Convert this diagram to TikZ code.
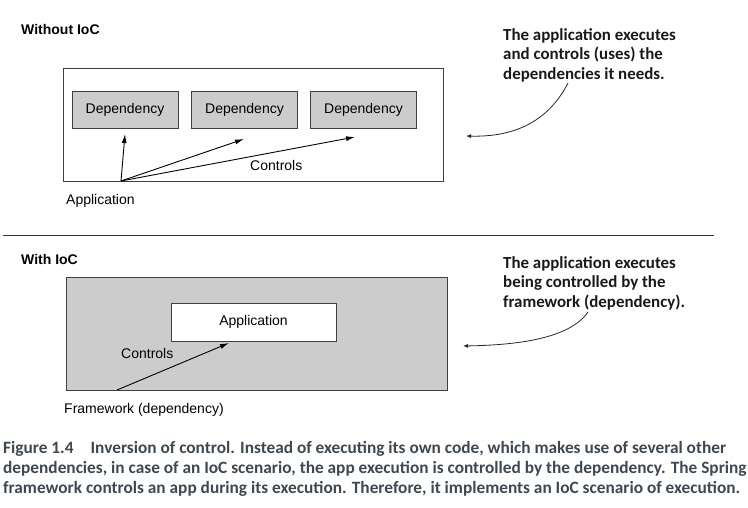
\documentclass[tikz,border=0pt]{standalone}
\usepackage{fontspec}
\setmainfont{Liberation Sans}
\newfontfamily\calfont{Carlito}
\usetikzlibrary{arrows.meta}
\definecolor{boxgray}{HTML}{CCCCCC}
\definecolor{capcol}{HTML}{3E4852}
\begin{document}
\begin{tikzpicture}[x=1pt,y=-1pt,
  lbl/.style={font=\fontsize{14}{16}\selectfont, inner sep=0pt},
  heading/.style={font=\fontsize{14}{16}\selectfont\bfseries, inner sep=0pt, anchor=base west},
  depbox/.style={draw=black!75, line width=0.9pt, fill=boxgray, minimum width=106pt, minimum height=37pt, inner sep=0pt, font=\fontsize{14}{16}\selectfont},
  frame/.style={draw=black!75, line width=0.9pt},
  ctrl/.style={draw=black, line width=0.9pt, -{Latex[length=9pt,width=5pt]}},
  callout/.style={font=\calfont\fontsize{16.9}{19.7}\selectfont\bfseries, inner sep=0pt, anchor=north west, align=left, text=black!90},
  calarrow/.style={draw=black!85, line width=0.8pt, -{Latex[length=5pt,width=4pt]}},
  capline/.style={font=\calfont\fontsize{17.3}{20}\selectfont\bfseries, text=capcol, inner sep=0pt, anchor=base west}
]
\useasboundingbox (0,0) rectangle (748,508);

% ---------- Without IoC ----------
\node[heading] (h1) at (21,35) {Without IoC};
\node[frame, minimum width=380pt, minimum height=113pt, inner sep=0pt] (app1) at (253,124.5) {};
\node[depbox] (d1) at (125,110) {Dependency};
\node[depbox] (d2) at (244.5,110) {Dependency};
\node[depbox] (d3) at (363.5,110) {Dependency};
\coordinate (o1) at (121,181);
\coordinate (t1) at (125,134);
\coordinate (t2) at (244,139);
\coordinate (t3) at (355,137);
\draw[ctrl] (o1) -- (t1);
\draw[ctrl] (o1) -- (t2);
\draw[ctrl] (o1) -- (t3);
\node[lbl, anchor=base west] (c1) at (250,171) {Controls};
\node[lbl, anchor=base west] (a1) at (66,205) {Application};

\node[callout] (n1) at (503,28) {The application executes\\and controls (uses) the\\dependencies it needs.};
\coordinate (n1s) at (568,83);
\coordinate (n1e) at (466,136);
\draw[calarrow] (n1s) .. controls (545,128) and (505,137) .. (n1e);

% separator
\coordinate (sepL) at (3,236);
\coordinate (sepR) at (714,236);
\draw[black!80, line width=1pt] (sepL) -- (sepR);

% ---------- With IoC ----------
\node[heading] (h2) at (21,265) {With IoC};
\node[frame, fill=boxgray, minimum width=381pt, minimum height=113pt, inner sep=0pt] (fw) at (256.5,334) {};
\node[frame, fill=white, minimum width=165pt, minimum height=38pt, inner sep=0pt, font=\fontsize{14}{16}\selectfont] (app2) at (253.5,322) {Application};
\coordinate (o2) at (117,390);
\coordinate (t4) at (229,343);
\draw[ctrl] (o2) -- (t4);
\node[lbl, anchor=base west] (c2) at (121,358) {Controls};
\node[lbl, anchor=base west] (f2) at (64,413) {Framework (dependency)};

\node[callout] (n2) at (503,256) {The application executes\\being controlled by the\\framework (dependency).};
\coordinate (n2s) at (588,312);
\coordinate (n2e) at (463,346);
\draw[calarrow] (n2s) .. controls (570,338) and (520,345) .. (n2e);

% ---------- Caption ----------
\node[capline] (cap1) at (3,453) {Figure 1.4\hspace{17pt}Inversion of control. Instead of executing its own code, which makes use of several other};
\node[capline] (cap2) at (3,473) {dependencies, in case of an IoC scenario, the app execution is controlled by the dependency. The Spring};
\node[capline] (cap3) at (3,493) {framework controls an app during its execution. Therefore, it implements an IoC scenario of execution.};
\end{tikzpicture}
\end{document}
